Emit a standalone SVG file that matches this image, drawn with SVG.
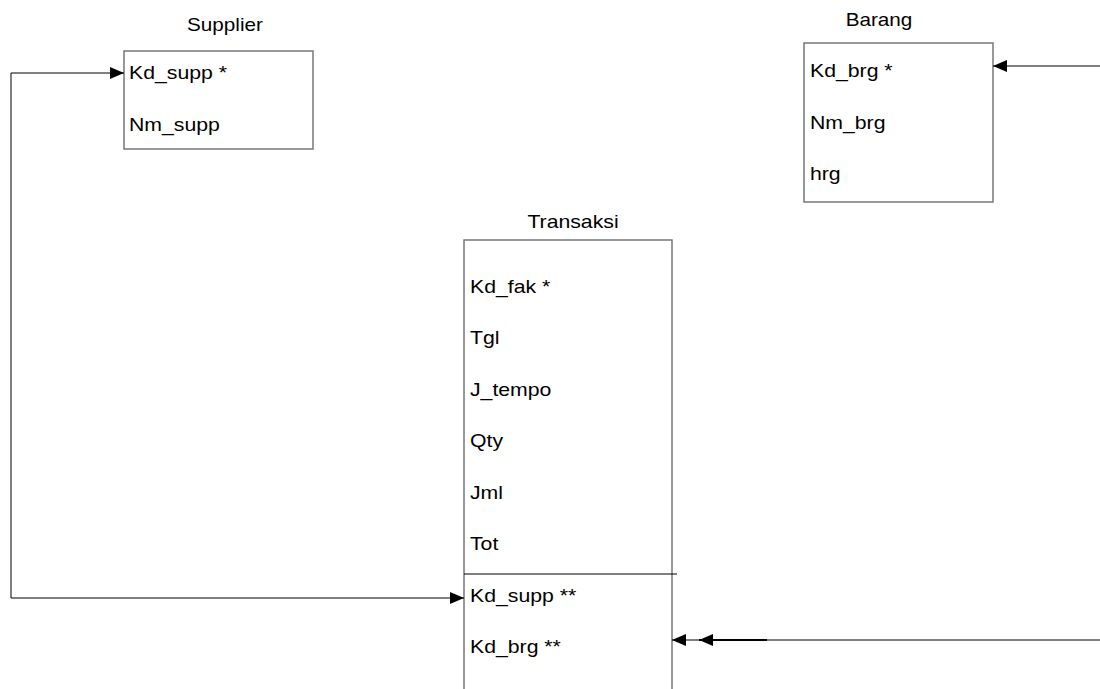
<svg xmlns="http://www.w3.org/2000/svg" width="1100" height="689" viewBox="0 0 1100 689">
<style>
.box{fill:#fff;stroke:#777;stroke-width:1.5}
.t{font-family:"Liberation Sans",Arial,sans-serif;font-size:18px;fill:#000}
.c{text-anchor:middle}
.ln{fill:none;stroke:#000;stroke-width:1}
</style>
<defs>
<marker id="ah" markerUnits="userSpaceOnUse" markerWidth="14" markerHeight="12" refX="14" refY="6" orient="auto-start-reverse" viewBox="0 0 14 12">
<path d="M0,0 L14,6 L0,12 Z" fill="#000"/>
</marker>
</defs>
<rect width="1100" height="689" fill="#fff"/>
<g id="supplier">
<text class="t c" transform="matrix(1.15 0 0 1 225 31)">Supplier</text>
<rect class="box" x="124" y="51" width="189" height="98"/>
<text class="t" transform="matrix(1.18 0 0 1 129 79)">Kd_supp *</text>
<text class="t" transform="matrix(1.18 0 0 1 129 131)">Nm_supp</text>
</g>
<g id="barang">
<text class="t c" transform="matrix(1.15 0 0 1 879 26)">Barang</text>
<rect class="box" x="804" y="43" width="189" height="159"/>
<text class="t" transform="matrix(1.18 0 0 1 810 77)">Kd_brg *</text>
<text class="t" transform="matrix(1.18 0 0 1 810 129)">Nm_brg</text>
<text class="t" transform="matrix(1.18 0 0 1 810 180)">hrg</text>
</g>
<g id="transaksi">
<text class="t c" transform="matrix(1.18 0 0 1 573 228)">Transaksi</text>
<rect class="box" x="464" y="240" width="208" height="470"/>
<line x1="464" y1="574" x2="677" y2="574" stroke="#000" stroke-width="1"/>
<text class="t" transform="matrix(1.18 0 0 1 470 293)">Kd_fak *</text>
<text class="t" transform="matrix(1.18 0 0 1 470 344)">Tgl</text>
<text class="t" transform="matrix(1.18 0 0 1 470 396)">J_tempo</text>
<text class="t" transform="matrix(1.18 0 0 1 470 447)">Qty</text>
<text class="t" transform="matrix(1.18 0 0 1 470 499)">Jml</text>
<text class="t" transform="matrix(1.18 0 0 1 470 550)">Tot</text>
<text class="t" transform="matrix(1.18 0 0 1 470 602)">Kd_supp **</text>
<text class="t" transform="matrix(1.18 0 0 1 470 653)">Kd_brg **</text>
</g>
<g id="connectors">
<path class="ln" d="M124,73 H11 V598 H464" marker-start="url(#ah)" marker-end="url(#ah)"/>
<path class="ln" d="M1100,66 H993" marker-end="url(#ah)"/>
<path class="ln" d="M1100,640 H767"/>
<path d="M767,640 H699" fill="none" stroke="#000" stroke-width="2" marker-end="url(#ah)"/>
<path class="ln" d="M699,640 H672" marker-end="url(#ah)"/>
</g>
</svg>
